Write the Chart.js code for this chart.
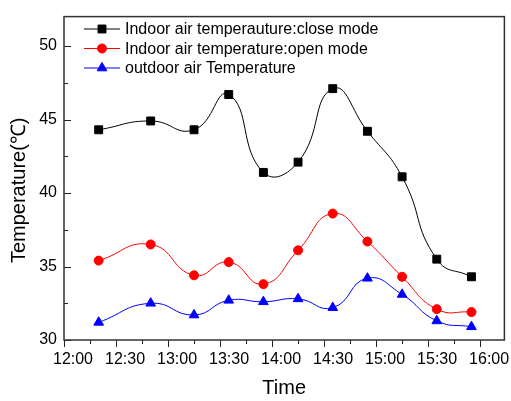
<!DOCTYPE html>
<html>
<head>
<meta charset="utf-8">
<script src="https://cdn.jsdelivr.net/npm/chart.js@4.4.1/dist/chart.umd.min.js"></script>
<style>
  html, body { margin: 0; padding: 0; background: #fff; }
</style>
</head>
<body>
<canvas id="tempChart" width="511" height="401"></canvas>
<script>
// measurement times and temperatures (°C)
const times = ['12:20', '12:50', '13:15', '13:35', '13:55', '14:15', '14:35', '14:55', '15:15', '15:35', '15:55'];
const closeMode = [44.3, 44.9, 44.3, 46.7, 41.4, 42.1, 47.1, 44.2, 41.1, 35.5, 34.3];
const openMode = [35.4, 36.5, 34.4, 35.3, 33.8, 36.1, 38.6, 36.7, 34.3, 32.1, 31.9];
const outdoor = [31.2, 32.5, 31.7, 32.7, 32.6, 32.8, 32.2, 34.2, 33.1, 31.3, 30.9];

const seriesNames = [
  'Indoor air temperauture:close mode',
  'Indoor air temperature:open mode',
  'outdoor air Temperature'
];
const xTickLabels = ['12:00', '12:30', '13:00', '13:30', '14:00', '14:30', '15:00', '15:30', '16:00'];
const yTickValues = [30, 35, 40, 45, 50];
const yTitle = 'Temperature(℃)';

const FONT = "'Liberation Sans', Arial, sans-serif";

// minutes after 12:00
function toMin(s) {
  const [h, m] = s.split(':').map(Number);
  return (h - 12) * 60 + m;
}
function toPoints(values) {
  return values.map((v, i) => ({ x: toMin(times[i]), y: v }));
}

function makeSet(label, values, color, style, radius) {
  return {
    label: label,
    data: toPoints(values),
    borderColor: color,
    backgroundColor: color,
    borderWidth: 1,
    pointStyle: style,
    pointRadius: radius,
    pointBorderWidth: 1,
    tension: 0.5
  };
}

// box round the plot + inward y ticks / outward x ticks, with minor ticks
const frameTicks = {
  id: 'frameTicks',
  beforeDatasetsDraw(chart) {
    const { ctx, chartArea: a, scales: { x, y } } = chart;
    ctx.save();
    ctx.strokeStyle = '#222';
    ctx.lineWidth = 1;
    ctx.beginPath();
    for (let m = 0; m <= 240; m += 15) {
      const px = Math.round(x.getPixelForValue(m)) + 0.5;
      ctx.moveTo(px, a.bottom);
      ctx.lineTo(px, a.bottom + (m % 30 === 0 ? 7 : 4));
    }
    for (let v = 30; v <= 50; v += 2.5) {
      const py = Math.round(y.getPixelForValue(v)) + 0.5;
      ctx.moveTo(a.left, py);
      ctx.lineTo(a.left + (v % 5 === 0 ? 7 : 4), py);
    }
    ctx.stroke();
    ctx.lineWidth = 1.5;
    ctx.strokeStyle = '#333';
    ctx.strokeRect(a.left, a.top, a.right - a.left, a.bottom - a.top);
    ctx.restore();
  }
};

// y title, sitting a little below the middle of the axis
const yTitlePlugin = {
  id: 'yTitlePlugin',
  afterDraw(chart) {
    const { ctx, chartArea: a } = chart;
    ctx.save();
    ctx.translate(19, (a.top + a.bottom) / 2 + 12);
    ctx.rotate(-Math.PI / 2);
    ctx.font = '20px ' + FONT;
    ctx.fillStyle = '#000';
    ctx.textAlign = 'center';
    ctx.textBaseline = 'middle';
    ctx.fillText(yTitle, 0, 0);
    ctx.restore();
  }
};

// legend inside the plot: short line with the marker on it
const insideLegend = {
  id: 'insideLegend',
  afterDraw(chart) {
    const ctx = chart.ctx;
    const x0 = 84, x1 = 120, textX = 125;
    const rows = [29, 48.5, 68];
    ctx.save();
    ctx.font = '16px ' + FONT;
    ctx.textBaseline = 'middle';
    chart.data.datasets.forEach((ds, i) => {
      const yy = rows[i];
      ctx.strokeStyle = ds.borderColor;
      ctx.fillStyle = ds.backgroundColor;
      ctx.lineWidth = 1;
      ctx.beginPath();
      ctx.moveTo(x0, yy);
      ctx.lineTo(x1, yy);
      ctx.stroke();
      Chart.helpers.drawPoint(ctx, {
        pointStyle: ds.pointStyle, rotation: 0, radius: ds.pointRadius, borderWidth: 1
      }, (x0 + x1) / 2, yy);
      ctx.fillStyle = '#000';
      ctx.fillText(ds.label, textX, yy + 1);
    });
    ctx.restore();
  }
};

new Chart(document.getElementById('tempChart'), {
  type: 'line',
  data: {
    datasets: [
      makeSet(seriesNames[0], closeMode, '#000000', 'rect', 5.6),
      makeSet(seriesNames[1], openMode, '#ff0000', 'circle', 4.5),
      makeSet(seriesNames[2], outdoor, '#0000ff', 'triangle', 5.6)
    ]
  },
  options: {
    responsive: false,
    animation: false,
    devicePixelRatio: 1,
    layout: { padding: { top: 12, right: 6, left: 0, bottom: 0 } },
    plugins: { legend: { display: false }, tooltip: { enabled: false } },
    scales: {
      x: {
        type: 'linear',
        min: 0,
        max: 254,
        afterFit(s) { s.height = 61; },
        afterBuildTicks(s) { s.ticks = xTickLabels.map(t => ({ value: toMin(t) })); },
        grid: { display: false, drawTicks: false },
        border: { display: false },
        ticks: {
          padding: 10,
          labelOffset: 9,
          color: '#000',
          font: { family: FONT, size: 16 },
          maxRotation: 0,
          callback(v) { return xTickLabels.find(t => toMin(t) === v) || ''; }
        },
        title: {
          display: true,
          text: 'Time',
          color: '#000',
          font: { family: FONT, size: 20 },
          padding: { top: 0, bottom: 1 }
        }
      },
      y: {
        min: 30,
        max: 52,
        afterFit(s) { s.width = 64; },
        afterBuildTicks(s) { s.ticks = yTickValues.map(v => ({ value: v })); },
        grid: { display: false, drawTicks: false },
        border: { display: false },
        ticks: {
          padding: 7,
          color: '#000',
          font: { family: FONT, size: 16 }
        }
      }
    }
  },
  plugins: [frameTicks, yTitlePlugin, insideLegend]
});
</script>
</body>
</html>
